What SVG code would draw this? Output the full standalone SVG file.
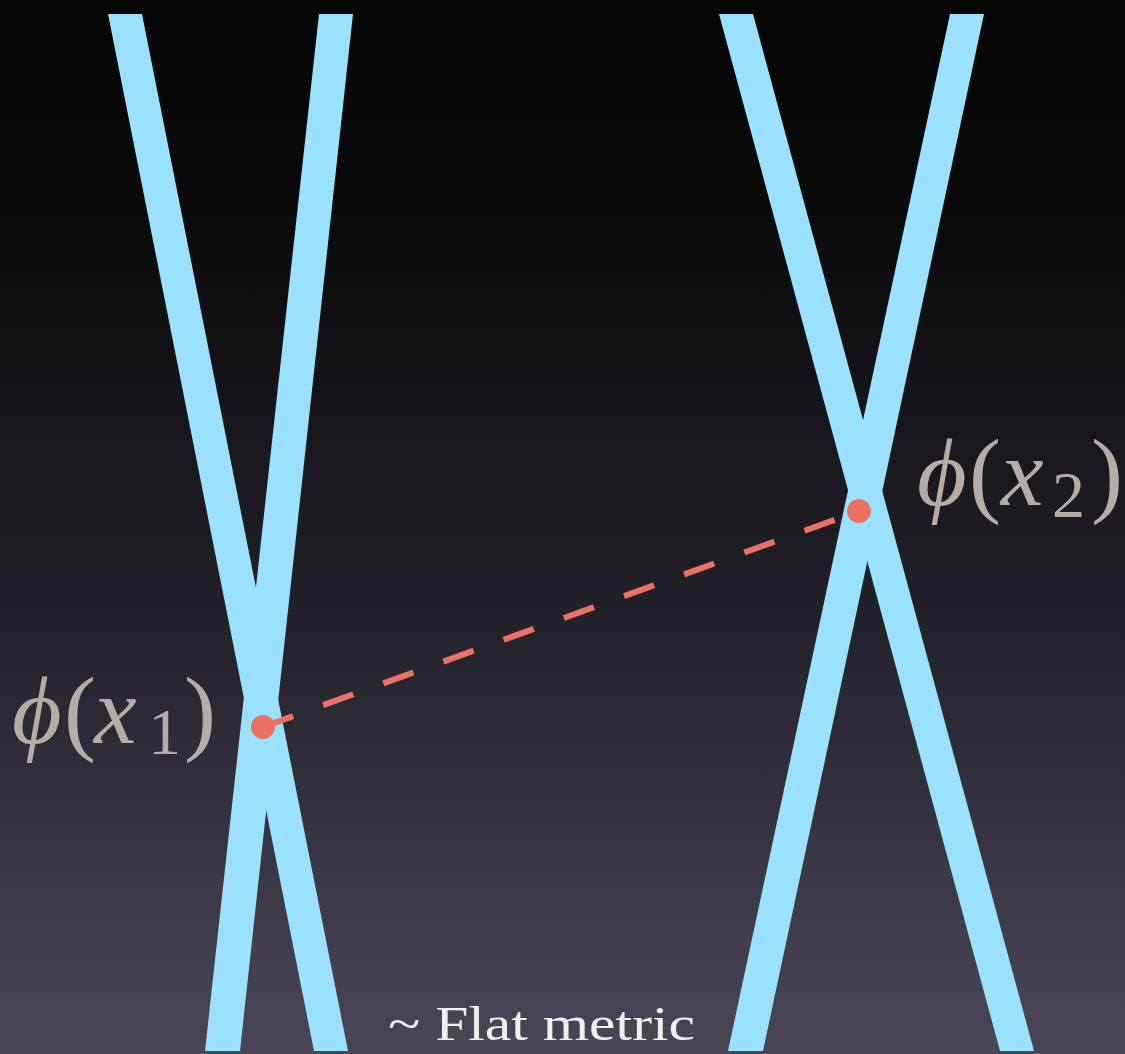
<svg xmlns="http://www.w3.org/2000/svg" width="1125" height="1054" viewBox="0 0 1125 1054">
<defs>
<linearGradient id="bg" x1="0" y1="0" x2="0" y2="1">
<stop offset="0" stop-color="#060606"/>
<stop offset="0.2" stop-color="#0a0a0b"/>
<stop offset="0.4" stop-color="#17161b"/>
<stop offset="0.6" stop-color="#24222a"/>
<stop offset="0.82" stop-color="#3a3746"/>
<stop offset="1" stop-color="#4b4657"/>
</linearGradient>
<style>
.strip{fill:#9ae1fe}
.dot{fill:#ec7063}
.lbl{font-family:"Liberation Serif","DejaVu Serif",serif;fill:#b6aca6}
.it{font-style:italic}
.note{font-family:"Liberation Serif","DejaVu Serif",serif;fill:#f2f0ee;font-size:48px}
</style>
</defs>
<rect x="0" y="0" width="1125" height="1054" fill="url(#bg)"/>
<g id="x-left">
<polygon class="strip" points="108,14 142,14 348,1051 314,1051"/>
<polygon class="strip" points="319,14 353,14 240,1051 205,1051"/>
</g>
<g id="x-right">
<polygon class="strip" points="719,14 753,14 1034,1051 1000,1051"/>
<polygon class="strip" points="950,14 984,14 763,1051 728,1051"/>
</g>
<g id="connectors">
<line x1="263" y1="727" x2="859" y2="511" stroke="#ec7063" stroke-width="6" stroke-dasharray="32 32"/>
</g>
<g id="point-x1">
<circle class="dot" cx="263" cy="727" r="12"/>
<text class="lbl" font-size="96"><tspan class="it" x="12" y="743">ϕ</tspan><tspan x="64" y="743">(</tspan><tspan class="it" x="94" y="743">x</tspan><tspan x="148" y="754" font-size="66">1</tspan><tspan x="184" y="743">)</tspan></text>
</g>
<g id="point-x2">
<circle class="dot" cx="859" cy="511" r="12"/>
<text class="lbl" font-size="96"><tspan class="it" x="917" y="505">ϕ</tspan><tspan x="969" y="505">(</tspan><tspan class="it" x="1001" y="505">x</tspan><tspan x="1052" y="517" font-size="66">2</tspan><tspan x="1091" y="505">)</tspan></text>
</g>
<g id="caption">
<text class="note" x="388" y="1040" textLength="307" lengthAdjust="spacingAndGlyphs">~ Flat metric</text>
</g>
</svg>
